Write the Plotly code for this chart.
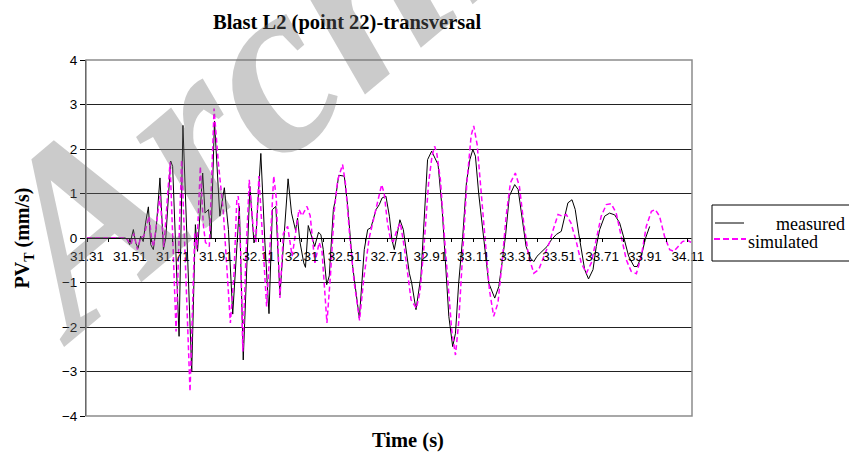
import plotly.graph_objects as go

# Peak particle velocity, transversal component, blast L2 at point 22
time_measured = [
    31.31, 31.40, 31.49, 31.498, 31.509, 31.526, 31.537, 31.548, 31.560, 31.572,
    31.583, 31.596, 31.607, 31.619, 31.632, 31.650, 31.666, 31.677, 31.700, 31.709,
    31.739, 31.757, 31.798, 31.815, 31.825, 31.849, 31.860, 31.876, 31.888, 31.904,
    31.929, 31.950, 31.969, 31.989, 32.020, 32.038, 32.069, 32.088, 32.097, 32.120,
    32.139, 32.158, 32.174, 32.190, 32.209, 32.247, 32.263, 32.282, 32.291, 32.302,
    32.320, 32.328, 32.341, 32.371, 32.389, 32.400, 32.411, 32.427, 32.439, 32.458,
    32.467, 32.483, 32.498, 32.509, 32.525, 32.548, 32.579, 32.602, 32.618, 32.633,
    32.657, 32.672, 32.685, 32.703, 32.719, 32.731, 32.742, 32.768, 32.784, 32.796,
    32.812, 32.823, 32.843, 32.866, 32.882, 32.897, 32.916, 32.934, 32.946, 32.965,
    32.980, 32.996, 33.014, 33.027, 33.042, 33.061, 33.078, 33.094, 33.108, 33.120,
    33.135, 33.159, 33.182, 33.210, 33.229, 33.244, 33.260, 33.278, 33.303, 33.319,
    33.337, 33.356, 33.376, 33.392, 33.407, 33.431, 33.454, 33.474, 33.497, 33.520,
    33.536, 33.551, 33.570, 33.585, 33.601, 33.613, 33.629, 33.647, 33.668, 33.683,
    33.699, 33.722, 33.745, 33.769, 33.792, 33.812, 33.834, 33.859, 33.874, 33.893,
    33.913, 33.932,
]
pv_measured = [
    0.0, 0.0, 0.0, -0.04, -0.15, 0.19, -0.11, -0.23, 0.04, -0.08,
    0.34, 0.70, -0.15, -0.26, 0.19, 1.35, -0.26, 0.0, 1.73, 1.61,
    -2.21, 2.53, -3.0, 0.30, -0.30, 1.46, 0.56, 0.64, 0.0, 2.63,
    0.49, 1.13, 0.19, -1.71, 0.71, -2.74, 1.16, -0.11, 0.04, 1.90,
    -0.11, -1.70, 0.64, 0.71, -1.28, 1.33, 0.56, 0.17, 0.45, -0.08,
    -0.56, -0.66, 0.28, -0.19, 0.13, 0.07, -0.26, -1.05, -0.85, 0.64,
    0.85, 1.41, 1.39, 1.39, 0.71, -0.64, -1.80, -0.26, 0.19, 0.23,
    0.64, 0.75, 0.90, 0.94, 0.49, -0.04, -0.26, 0.41, 0.19, -0.19,
    -0.79, -1.01, -1.61, -0.86, 0.64, 1.76, 1.95, 1.76, 1.65, 0.64,
    -0.56, -1.76, -2.44, -2.14, -1.01, 0.04, 1.24, 1.76, 1.99, 1.84,
    1.01, 0.0, -1.01, -1.35, -1.09, -0.56, 0.04, 0.94, 1.20, 1.09,
    0.49, -0.19, -0.45, -0.53, -0.41, -0.30, -0.19, -0.04, 0.08, 0.15,
    0.49, 0.79, 0.86, 0.64, 0.11, -0.26, -0.71, -0.92, -0.71, -0.19,
    0.19, 0.49, 0.56, 0.52, 0.34, 0.0, -0.41, -0.64, -0.64, -0.41,
    0.0, 0.26,
]

time_simulated = [
    31.31, 31.40, 31.49, 31.500, 31.515, 31.528, 31.545, 31.560, 31.575, 31.599,
    31.612, 31.620, 31.650, 31.668, 31.697, 31.725, 31.751, 31.790, 31.812, 31.822,
    31.838, 31.852, 31.862, 31.880, 31.902, 31.922, 31.945, 31.978, 31.995, 32.008,
    32.015, 32.026, 32.036, 32.050, 32.066, 32.085, 32.097, 32.111, 32.128, 32.147,
    32.165, 32.180, 32.192, 32.209, 32.225, 32.245, 32.266, 32.282, 32.298, 32.312,
    32.335, 32.350, 32.372, 32.392, 32.405, 32.428, 32.445, 32.462, 32.478, 32.501,
    32.515, 32.535, 32.555, 32.580, 32.600, 32.625, 32.650, 32.670, 32.683, 32.695,
    32.710, 32.725, 32.737, 32.755, 32.770, 32.788, 32.803, 32.820, 32.845, 32.862,
    32.880, 32.902, 32.918, 32.930, 32.940, 32.957, 32.976, 32.995, 33.010, 33.027,
    33.042, 33.060, 33.080, 33.100, 33.112, 33.128, 33.148, 33.167, 33.185, 33.205,
    33.225, 33.244, 33.263, 33.283, 33.306, 33.325, 33.345, 33.368, 33.392, 33.415,
    33.440, 33.465, 33.480, 33.505, 33.525, 33.543, 33.565, 33.590, 33.613, 33.637,
    33.660, 33.683, 33.706, 33.730, 33.753, 33.776, 33.800, 33.823, 33.846, 33.870,
    33.893, 33.916, 33.940, 33.958, 33.978, 34.001, 34.025, 34.045, 34.065, 34.085,
    34.107, 34.125,
]
pv_simulated = [
    0.0, 0.0, 0.0, -0.05, -0.15, 0.10, -0.26, 0.0, 0.05, 0.49,
    -0.05, -0.20, 0.94, -0.20, 1.70, -2.10, 1.76, -3.45, 0.10, -0.25,
    1.61, 0.30, -0.10, -0.19, 2.91, 1.69, 0.60, -1.91, -0.80, 0.86,
    0.94, -0.30, -2.55, -0.50, 1.31, 0.20, -0.10, 1.39, 0.0, -1.54,
    0.0, 1.39, 0.90, -1.35, 0.10, 0.26, -0.41, 0.10, 0.64, 0.50,
    0.71, 0.50, -0.56, -0.10, -0.30, -1.91, -0.80, 0.60, 1.30, 1.65,
    1.20, 0.0, -1.00, -1.85, -0.90, 0.0, 0.50, 0.94, 1.20, 1.00,
    0.34, -0.05, -0.08, 0.19, 0.34, -0.19, -0.79, -1.39, -1.58, -1.20,
    -0.20, 1.25, 1.85, 2.06, 1.90, 1.30, 0.0, -1.30, -2.10, -2.63,
    -1.90, -0.40, 1.24, 2.30, 2.52, 2.10, 1.00, -0.10, -1.16, -1.76,
    -1.46, -0.56, 0.49, 1.24, 1.46, 1.16, 0.34, -0.41, -0.79, -0.71,
    -0.41, -0.10, 0.15, 0.53, 0.49, 0.53, 0.34, -0.08, -0.56, -0.79,
    -0.56, -0.04, 0.49, 0.75, 0.77, 0.56, 0.04, -0.49, -0.75, -0.80,
    -0.41, 0.26, 0.60, 0.64, 0.49, 0.04, -0.26, -0.30, -0.19, -0.08,
    -0.05, -0.10,
]

# Time ticks: labelled every 0.2 s, with an unlabelled tick midway
tick_times = [round(31.31 + 0.2 * i, 2) for i in range(15)]
tick_labels = [f"{t:.2f}" for t in tick_times]
minor_tick_times = [round(31.41 + 0.2 * i, 2) for i in range(14)]
y_ticks = [-4, -3, -2, -1, 0, 1, 2, 3, 4]

SANS = "Liberation Sans, Arial, sans-serif"
SERIF = "Liberation Serif, Times New Roman, serif"

W, H = 849, 452
L, R, T, B = 86, 157, 60, 36
PW, PH = W - L - R, H - T - B


def px(xp):
    return (xp - L) / PW


def py(yp):
    return (H - B - yp) / PH


fig = go.Figure()
fig.add_trace(go.Scatter(
    x=time_measured, y=pv_measured, mode="lines", name="measured",
    line=dict(color="black", width=1), showlegend=False,
))
fig.add_trace(go.Scatter(
    x=time_simulated, y=pv_simulated, mode="lines", name="simulated",
    line=dict(color="#ff00ff", width=1.5, dash="5px,3px"), showlegend=False,
))

fig.update_layout(
    width=W, height=H,
    margin=dict(l=L, r=R, t=T, b=B),
    paper_bgcolor="white", plot_bgcolor="white",
    font=dict(family=SANS, size=13, color="black"),
    xaxis=dict(
        range=[31.3053, 34.1292],
        anchor="free", position=0.5,
        tickmode="array", tickvals=tick_times, ticktext=tick_labels,
        ticks="outside", ticklen=3, tickcolor="black",
        ticklabelstandoff=3,
        minor=dict(tickmode="array", tickvals=minor_tick_times,
                   ticks="outside", ticklen=3, tickcolor="black", showgrid=False),
        showline=True, linecolor="black", linewidth=1,
        showgrid=False, zeroline=False,
        tickfont=dict(family=SANS, size=13.5),
    ),
    yaxis=dict(
        range=[-4, 4], domain=[0, 1],
        tickmode="array", tickvals=y_ticks,
        ticks="outside", ticklen=5, tickcolor="black",
        showline=True, linecolor="black", linewidth=1,
        showgrid=True, gridcolor="#222222", gridwidth=1,
        zeroline=True, zerolinecolor="black", zerolinewidth=1,
        tickfont=dict(family=SANS, size=13.5),
        title=dict(
            text="<b>PV<sub>T</sub> (mm/s)</b>",
            font=dict(family=SERIF, size=20), standoff=26,
        ),
    ),
)

# Plot-area frame
fig.add_shape(type="rect", xref="paper", yref="paper", x0=0, x1=1, y0=0, y1=1,
              line=dict(color="#8c8c8c", width=1.5), layer="above")

# Chart title and time-axis title
fig.add_annotation(text="<b>Blast L2 (point 22)-transversal</b>",
                   xref="paper", yref="paper", x=px(347), y=py(23),
                   xanchor="center", yanchor="middle", showarrow=False,
                   font=dict(family=SERIF, size=20.5, color="black"))
fig.add_annotation(text="<b>Time (s)</b>",
                   xref="paper", yref="paper", x=px(408), y=py(440),
                   xanchor="center", yanchor="middle", showarrow=False,
                   font=dict(family=SERIF, size=20.5, color="black"))

# Legend box with line samples
fig.add_shape(type="rect", xref="paper", yref="paper",
              x0=px(712), x1=px(870), y0=py(261), y1=py(205),
              line=dict(color="black", width=1), fillcolor="white", layer="above")
fig.add_shape(type="line", xref="paper", yref="paper",
              x0=px(715), x1=px(744), y0=py(223), y1=py(223),
              line=dict(color="black", width=1), layer="above")
fig.add_shape(type="line", xref="paper", yref="paper",
              x0=px(714), x1=px(746), y0=py(239), y1=py(239),
              line=dict(color="#ff00ff", width=2, dash="6px,3px"), layer="above")
fig.add_annotation(text="measured", xref="paper", yref="paper",
                   x=px(774), y=py(224), xanchor="left", yanchor="middle",
                   showarrow=False, font=dict(family=SERIF, size=18, color="black"))
fig.add_annotation(text="simulated", xref="paper", yref="paper",
                   x=px(746), y=py(242), xanchor="left", yanchor="middle",
                   showarrow=False, font=dict(family=SERIF, size=18, color="black"))

# Diagonal archive watermark
fig.add_annotation(text="<b><i>Archive of SID</i></b>", xref="paper", yref="paper",
                   x=px(610), y=py(-222), xanchor="center", yanchor="middle",
                   textangle=-40, showarrow=False,
                   font=dict(family=SERIF, size=250, color="rgba(110,110,110,0.36)"))

fig.write_html("out.html")
